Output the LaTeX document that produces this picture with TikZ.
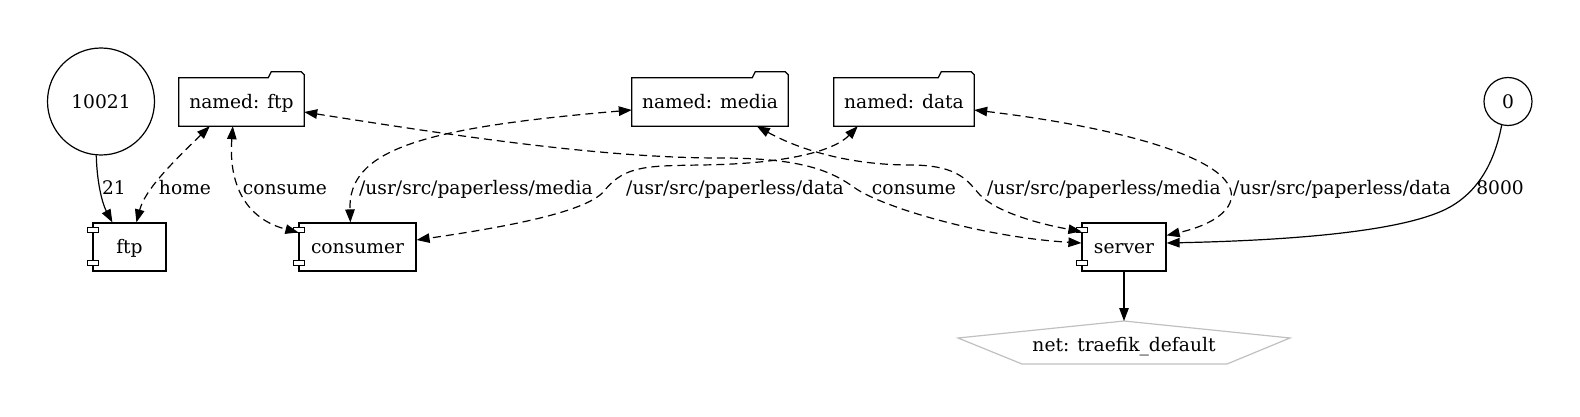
\documentclass[tikz,border=0pt]{standalone}
\usepackage{fontspec}
\setmainfont{DejaVu Serif}
\usetikzlibrary{arrows.meta,calc}
\definecolor{netgray}{RGB}{192,192,192}
\newcommand\folderpath[1]{%
  \draw[line width=1.2pt, line join=miter] (#1.south west) -- (#1.north west)
    -- ($(#1.north east)+(-36,0)$) -- ($(#1.north east)+(-33,-6)$)
    -- ($(#1.north east)+(-3,-6)$) -- ($(#1.north east)+(0,-3)$)
    -- (#1.south east) -- cycle;}
\newcommand\comprects[1]{%
  \draw[line width=1pt, fill=white] ($(#1.north west)+(-5,5)$) rectangle ($(#1.north west)+(6,10)$);
  \draw[line width=1pt, fill=white] ($(#1.south west)+(-5,-11)$) rectangle ($(#1.south west)+(6,-6)$);}
\begin{document}
\begin{tikzpicture}[x=1pt,y=-1pt,
  every node/.style={font=\fontsize{18.67}{22}\selectfont, inner sep=0pt, text height=13.6pt, text depth=0pt},
  circ/.style={circle, draw, line width=1.2pt},
  folder/.style={minimum height=48pt},
  comp/.style={draw, line width=1.2pt, minimum height=48pt},
  conn/.style={line width=1.2pt, -{Triangle[length=13pt,width=9.5pt]}},
  vol/.style={line width=1.2pt, dash pattern=on 8pt off 5pt,
    {Triangle[length=13pt,width=9.5pt]}-{Triangle[length=13pt,width=9.5pt]}}]
\useasboundingbox (0,0) rectangle (1580,417);
% nodes
\node[circ, minimum size=107pt] (c10021) at (101,101.5) {10021};
\node[circ, minimum size=48pt] (c0) at (1508,101.5) {0};
\node[folder, minimum width=125pt] (nftp) at (241.5,102) {named: ftp};
\node[folder, minimum width=156pt] (nmedia) at (710,102) {named: media};
\node[folder, minimum width=140pt] (ndata) at (904,102) {named: data};
\folderpath{nftp}
\folderpath{nmedia}
\folderpath{ndata}
\node[comp, minimum width=73pt] (ftp) at (129.5,247) {ftp};
\node[comp, minimum width=117pt] (consumer) at (357.5,247) {consumer};
\node[comp, minimum width=84pt] (server) at (1124,247) {server};
\comprects{ftp}
\comprects{consumer}
\comprects{server}
\node (net) at (1124,345) {net: traefik\_default};
\draw[netgray, line width=1.2pt] ($(net)+(0,-24)$) -- ($(net)+(166,-7)$) -- ($(net)+(103,19)$)
  -- ($(net)+(-102,19)$) -- ($(net)+(-166,-7)$) -- cycle;
\coordinate (netapex) at ($(net)+(0,-24)$);
% edges
\draw[conn] (c10021.265) .. controls (97,185) and (103,205) .. ($(ftp.north west)+(20,0)$);
\draw[vol] ($(nftp.south west)+(31,0)$) .. controls (170,165) and (145,190) .. ($(ftp.north west)+(44,0)$);
\draw[vol] ($(nftp.south west)+(54,0)$) .. controls (228,190) and (250,220) .. ($(consumer.north west)+(0,10)$);
\draw[vol] ($(nmedia.west)+(0,8)$) .. controls (420,128) and (348,150) .. ($(consumer.north west)+(52,0)$);
\draw[vol] ($(ndata.south west)+(24,0)$) .. controls (835,150) and (790,164) .. (700,165)
  .. controls (650,166) and (625,165) .. (605,190)
  .. controls (590,210) and (520,225) .. ($(consumer.east)+(0,-7)$);
\draw[vol] ($(nftp.east)+(0,10)$) .. controls (450,135) and (600,158) .. (720,158)
  .. controls (800,158) and (830,170) .. (855,188)
  .. controls (880,206) and (980,237) .. ($(server.west)+(0,-4)$);
\draw[vol] ($(nmedia.south west)+(125,0)$) .. controls (800,150) and (850,165) .. (910,165)
  .. controls (960,165) and (968,182) .. (980,195)
  .. controls (1000,215) and (1050,226) .. ($(server.north west)+(0,9)$);
\draw[vol] ($(ndata.east)+(0,8)$) .. controls (1100,125) and (1200,150) .. (1225,180)
  .. controls (1242,200) and (1225,222) .. ($(server.north east)+(0,13)$);
\draw[conn] (c0.255) .. controls (1495,160) and (1480,190) .. (1450,207)
  .. controls (1400,235) and (1260,241) .. ($(server.east)+(0,-4)$);
\draw[conn] (server.south) -- (netapex);
% labels
\node (l21) at (114,188) {21};
\node (lhome) at (185,188) {home};
\node (lcons1) at (285,188) {consume};
\node (lmed1) at (476,188) {/usr/src/paperless/media};
\node (ldat1) at (735,188) {/usr/src/paperless/data};
\node (lcons2) at (914,188) {consume};
\node (lmed2) at (1104,188) {/usr/src/paperless/media};
\node (ldat2) at (1342,188) {/usr/src/paperless/data};
\node (l8000) at (1500,188) {8000};
\end{tikzpicture}
\end{document}
